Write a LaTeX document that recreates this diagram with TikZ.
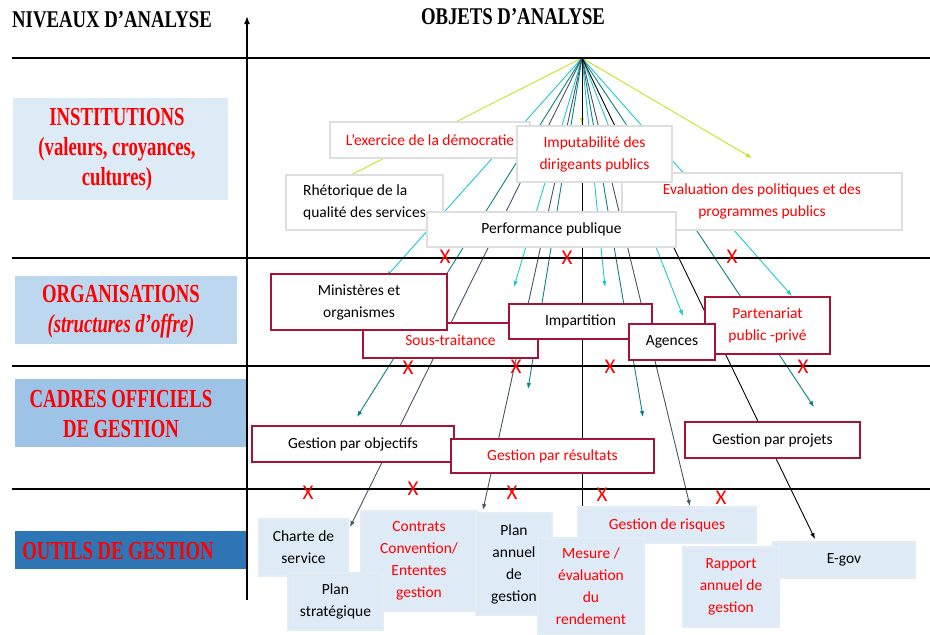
\documentclass[tikz,border=0pt]{standalone}
\usepackage{fontspec}
\setmainfont{Carlito}
\newfontfamily\titlefont[FakeStretch=0.78]{Liberation Serif}
\newfontfamily\levelfont[FakeStretch=0.72]{Liberation Serif}
\usetikzlibrary{arrows.meta}
\definecolor{lime}{RGB}{200,226,30}
\definecolor{aqua}{RGB}{30,200,210}
\definecolor{sea}{RGB}{10,130,130}
\definecolor{slate}{RGB}{68,84,106}
\definecolor{boxgray}{RGB}{222,222,222}
\definecolor{boxred}{RGB}{165,20,55}
\definecolor{toolfill}{RGB}{222,235,247}
\definecolor{toolline}{RGB}{228,236,244}
\definecolor{instfill}{RGB}{221,235,247}
\definecolor{orgfill}{RGB}{189,215,238}
\definecolor{cadrefill}{RGB}{157,195,230}
\definecolor{outilfill}{RGB}{46,117,182}
\tikzset{
    rule line/.style = {draw, line width=1.8pt},
    hub line/.style = {draw, line width=0.9pt, -{Latex[length=6pt, width=4.5pt]}},
}
\tikzset{
    obj box/.style = {rectangle, align=center, inner sep=2pt, font=\fontsize{15.5}{22}\selectfont},
    inst box/.style = {obj box, draw=boxgray, fill=white, line width=1.5pt},
    org box/.style = {obj box, draw=boxred, fill=white, line width=1.6pt},
    tool box/.style = {obj box, draw=toolline, fill=toolfill, line width=1.5pt},
    level label/.style = {align=center, text=red, font=\levelfont\bfseries\fontsize{26}{30}\selectfont},
    title label/.style = {font=\titlefont\bfseries\fontsize{24}{24}\selectfont},
    xmark/.style = {text=red, inner sep=0pt, font=\fontsize{21}{21}\selectfont},
}

\begin{document}
\begin{tikzpicture}[x=1pt, y=-1pt]
            \useasboundingbox (0, 0) rectangle (930, 635);

            \fill[instfill] (13, 98) rectangle (228, 200);
            \fill[orgfill] (15, 276) rectangle (237, 344);
            \fill[cadrefill] (15, 379) rectangle (247, 447);
            \fill[outilfill] (15, 531) rectangle (247, 569);

            \coordinate (hub) at (582, 58);

            \coordinate (lime rhet) at (345, 178);
            \coordinate (lime eval) at (752, 158);
            \coordinate (lime imput) at (582, 124);

            \coordinate (aqua mini) at (386, 277);
            \coordinate (aqua sous) at (514, 287);
            \coordinate (aqua impart) at (605, 287);
            \coordinate (aqua agen) at (683, 316);
            \coordinate (aqua part) at (792, 296);

            \coordinate (sea obj) at (357, 417);
            \coordinate (sea res) at (528, 389);
            \coordinate (sea res2) at (643, 417);
            \coordinate (sea proj) at (814, 407);

            \coordinate (slate charte) at (350, 527);
            \coordinate (slate plan) at (483, 510);
            \coordinate (slate risk) at (690, 506);

            \coordinate (black egov) at (815, 539);
            \coordinate (black risk) at (582, 508);

            \draw[hub line, lime] (hub) -- (lime rhet);
            \draw[hub line, lime] (hub) -- (lime eval);
            \draw[hub line, lime] (hub) -- (lime imput);
            \draw[hub line, aqua] (hub) -- (aqua mini);
            \draw[hub line, aqua] (hub) -- (aqua sous);
            \draw[hub line, aqua] (hub) -- (aqua impart);
            \draw[hub line, aqua] (hub) -- (aqua agen);
            \draw[hub line, aqua] (hub) -- (aqua part);
            \draw[hub line, sea] (hub) -- (sea obj);
            \draw[hub line, sea] (hub) -- (sea res);
            \draw[hub line, sea] (hub) -- (sea res2);
            \draw[hub line, sea] (hub) -- (sea proj);
            \draw[hub line, slate] (hub) -- (slate charte);
            \draw[hub line, slate] (hub) -- (slate plan);
            \draw[hub line, slate] (hub) -- (slate risk);
            \draw[hub line, black] (hub) -- (black egov);
            \draw[line width=0.9pt] (hub) -- (black risk);

            % niveaux
            \draw[rule line] (12, 58) -- (930, 58);
            \draw[rule line] (12, 258) -- (930, 258);
            \draw[rule line] (12, 366) -- (930, 366);
            \draw[rule line] (12, 489) -- (930, 489);
            \draw[line width=1.5pt, -{Latex[length=8pt, width=6pt]}] (247, 600) -- (247, 16);

            \node[inst box, text=red, minimum width=280pt, minimum height=57pt] (eval) at (762, 201.5) {Evaluation des politiques et des\\programmes publics};
            \node[inst box, text=red, minimum width=200pt, minimum height=36pt] (exer) at (430, 140) {L’exercice de la démocratie};
            \node[inst box, text=red, minimum width=155pt, minimum height=56pt] (imput) at (594.5, 154) {Imputabilité des\\dirigeants publics};
            \node[inst box, align=left, minimum width=157pt, minimum height=55pt] (rhet) at (364.5, 202.5) {Rhétorique de la\\qualité des services};
            \node[inst box, minimum width=249pt, minimum height=35pt] (perf) at (551.5, 229.5) {Performance publique};

            \node[org box, text=red, minimum width=175pt, minimum height=35pt] (sous) at (450.5, 340.5) {Sous-traitance};
            \node[org box, minimum width=176pt, minimum height=56pt] (mini) at (359, 302) {Ministères et\\organismes};
            \node[org box, minimum width=143pt, minimum height=35pt] (impart) at (580.5, 321.5) {Impartition};
            \node[org box, text=red, minimum width=125pt, minimum height=57pt] (part) at (767.5, 325.5) {Partenariat\\public -privé};
            \node[org box, minimum width=86pt, minimum height=36pt] (agen) at (672, 342) {Agences};

            \node[org box, minimum width=202pt, minimum height=36pt] (obj) at (353, 444) {Gestion par objectifs};
            \node[org box, text=red, minimum width=203pt, minimum height=34pt] (res) at (552.5, 456) {Gestion par résultats};
            \node[org box, minimum width=175pt, minimum height=36pt] (proj) at (772.5, 440) {Gestion par projets};

            \node[tool box, minimum width=89pt, minimum height=57pt] (charte) at (303.5, 547.5) {Charte de\\service};
            \node[tool box, text=red, minimum width=116pt, minimum height=100pt] (contrats) at (419, 561) {Contrats\\Convention/\\Ententes\\gestion};
            \node[tool box, minimum width=76pt, minimum height=102pt] (plan annuel) at (514, 564) {Plan\\annuel\\de\\gestion};
            \node[tool box, minimum width=95pt, minimum height=57pt] (plan) at (335.5, 601.5) {Plan\\stratégique};
            \node[tool box, text=red, minimum width=178pt, minimum height=36pt] (risk) at (667, 525) {Gestion de risques};
            \node[tool box, text=red, minimum width=106pt, minimum height=97pt] (mesure) at (591, 586.5) {Mesure /\\évaluation\\du\\rendement};
            \node[tool box, minimum width=142pt, minimum height=36pt] (egov) at (844, 560) {E-gov};
            \node[tool box, text=red, minimum width=96pt, minimum height=80pt] (rapport) at (731, 587) {Rapport\\annuel de\\gestion};

            \node[title label] (niveaux) at (112, 20) {NIVEAUX D’ANALYSE};
            \node[title label] (objets) at (513, 17) {OBJETS D’ANALYSE};

            \node[level label] (inst) at (117, 150) {INSTITUTIONS\\(valeurs, croyances,\\cultures)};
            \node[level label] (org) at (121, 312) {ORGANISATIONS\\{\itshape(structures d’offre)}};
            \node[level label] (cadre) at (121, 414) {CADRES OFFICIELS\\DE GESTION};
            \node[level label] (outil) at (118, 551) {OUTILS DE GESTION};

            \node[xmark] (x11) at (445, 257) {X};
            \node[xmark] (x12) at (567, 258) {X};
            \node[xmark] (x13) at (732, 257) {X};
            \node[xmark] (x21) at (408, 368) {X};
            \node[xmark] (x22) at (516, 367) {X};
            \node[xmark] (x23) at (610, 367) {X};
            \node[xmark] (x24) at (803, 367) {X};
            \node[xmark] (x31) at (308, 493) {X};
            \node[xmark] (x32) at (413, 489) {X};
            \node[xmark] (x33) at (512, 493) {X};
            \node[xmark] (x34) at (602, 495) {X};
            \node[xmark] (x35) at (721, 498) {X};
        \end{tikzpicture}
\end{document}
